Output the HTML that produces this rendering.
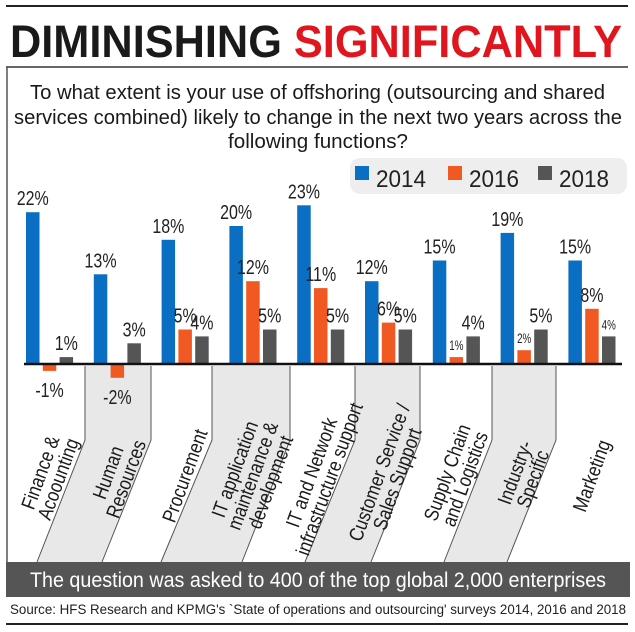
<!DOCTYPE html>
<html><head><meta charset="utf-8"><style>
body{margin:0;background:#fff;}
svg{display:block;font-family:"Liberation Sans Narrow","Liberation Sans",sans-serif;}
</style></head><body>
<svg width="635" height="632" viewBox="0 0 635 632">
<line x1="6" y1="6" x2="628" y2="6" stroke="#222" stroke-width="2"/>
<text x="10" y="57" font-size="45" font-weight="bold" fill="#1a1a1a" textLength="612" lengthAdjust="spacingAndGlyphs">DIMINISHING <tspan fill="#e0161f">SIGNIFICANTLY</tspan></text>
<line x1="6" y1="67" x2="628" y2="67" stroke="#333" stroke-width="1.5"/>
<line x1="7" y1="67" x2="7" y2="562" stroke="#555" stroke-width="1.5"/>
<g font-size="20" fill="#1a1a1a">
<text x="30" y="99" textLength="575" lengthAdjust="spacingAndGlyphs">To what extent is your use of offshoring (outsourcing and shared</text>
<text x="14" y="124" textLength="608" lengthAdjust="spacingAndGlyphs">services combined) likely to change in the next two years across the</text>
<text x="228" y="148" textLength="180" lengthAdjust="spacingAndGlyphs">following functions?</text>
</g>
<g>
<rect x="350" y="158" width="277" height="36" rx="10" fill="#eeeeee"/>
<rect x="355" y="166" width="14" height="14" fill="#0a6fc2"/>
<text x="376" y="187" font-size="24" fill="#222" textLength="50" lengthAdjust="spacingAndGlyphs">2014</text>
<rect x="448" y="166" width="14" height="14" fill="#f05a22"/>
<text x="469" y="187" font-size="24" fill="#222" textLength="50" lengthAdjust="spacingAndGlyphs">2016</text>
<rect x="538" y="166" width="14" height="14" fill="#555"/>
<text x="559" y="187" font-size="24" fill="#222" textLength="50" lengthAdjust="spacingAndGlyphs">2018</text>
</g>
<g id="bands"></g>
<g id="bars"></g>
<line x1="24" y1="364" x2="622" y2="364" stroke="#111" stroke-width="2.5"/>
<g id="cats"></g>
<rect x="6" y="562" width="624" height="35" fill="#555"/>
<text x="30" y="587" font-size="21" fill="#fff" textLength="576" lengthAdjust="spacingAndGlyphs">The question was asked to 400 of the top global 2,000 enterprises</text>
<text x="10" y="614" font-size="13.5" fill="#222" textLength="616" lengthAdjust="spacingAndGlyphs">Source: HFS Research and KPMG's `State of operations and outsourcing' surveys 2014, 2016 and 2018</text>
<line x1="6" y1="624" x2="628" y2="624" stroke="#222" stroke-width="2"/>
</svg>
<script>
const categories=[["Finance &","Acoounting"],["Human","Resources"],["Procurement"],["IT application","maintenance &","development"],["IT and Network","infrastructure support"],["Customer Service /","Sales Support"],["Supply Chain","and Logistics"],["Industry-","Specific"],["Marketing"]];
const v2014=[22,13,18,20,23,12,15,19,15];
const v2016=[-1,-2,5,12,11,6,1,2,8];
const v2018=[1,3,4,5,5,5,4,5,4];
const seriesNames=["2014","2016","2018"];
const colors=["#0a6fc2","#f05a22","#555555"];
const NS="http://www.w3.org/2000/svg";
const base=364,ppu=6.9,x0=26,step=67.8,bw=13.5;
function y(v){return base-v*ppu;}
function gx(i,s){return x0+i*step+s*16.8;}
const bars=document.getElementById('bars');
[v2014,v2016,v2018].forEach((arr,s)=>{
 arr.forEach((v,i)=>{
  const r=document.createElementNS(NS,'rect');
  r.setAttribute('x',gx(i,s));r.setAttribute('width',bw);
  r.setAttribute('y',Math.min(y(v),base));r.setAttribute('height',Math.abs(v)*ppu);
  r.setAttribute('fill',colors[s]);
  
  
  bars.appendChild(r);
  const t=document.createElementNS(NS,'text');
  const small=(s==1&&(i==6||i==7))||(s==2&&i==8);
  const tx=gx(i,s)+bw/2, ty=v>=0?y(v)-7:base+Math.abs(v)*ppu+26;
  t.setAttribute('transform',`translate(${tx},${ty}) scale(${small?0.7:0.8},1)`);
  t.setAttribute('text-anchor','middle');t.setAttribute('font-size',small?14:20);t.setAttribute('fill','#222');
  t.textContent=v+'%';
  
  
  bars.appendChild(t);
 });
});
const dividersTop=[85,151,212,290,355,420,492,556];
const dividersBot=[37,102,161,242,305,371,444,507];
const bands=document.getElementById('bands');
[[0,1],[2,3],[4,5],[6,7]].forEach(([a,b])=>{
 const p=document.createElementNS(NS,'polygon');
 p.setAttribute('points',`${dividersTop[a]},366 ${dividersTop[b]},366 ${dividersTop[b]},440 ${dividersBot[b]},562 ${dividersBot[a]},562 ${dividersTop[a]},440`);
 p.setAttribute('fill','#e8e8e8');
 
 
 bands.appendChild(p);
});
dividersTop.forEach((d,k)=>{
 const l=document.createElementNS(NS,'polyline');
 l.setAttribute('points',`${d},366 ${d},440 ${dividersBot[k]},562`);
 l.setAttribute('fill','none');l.setAttribute('stroke','#555');l.setAttribute('stroke-width','1');
 
 
 bands.appendChild(l);
});
const cats=document.getElementById('cats');
categories.forEach((lines,i)=>{
 const cx=x0+i*step+24, cy=476;
 const t=document.createElementNS(NS,'text');
 t.setAttribute('transform',`translate(${cx},${cy}) rotate(-70) scale(0.85,1)`);
 t.setAttribute('text-anchor','middle');t.setAttribute('font-size','20');t.setAttribute('fill','#1a1a1a');
 
 
 const n=lines.length;
 lines.forEach((ln,j)=>{
  const ts=document.createElementNS(NS,'tspan');
  ts.setAttribute('x',0);ts.setAttribute('y',(j-(n-1)/2)*19+6);
  ts.textContent=ln;t.appendChild(ts);
 });
 cats.appendChild(t);
});
</script>
</body></html>
